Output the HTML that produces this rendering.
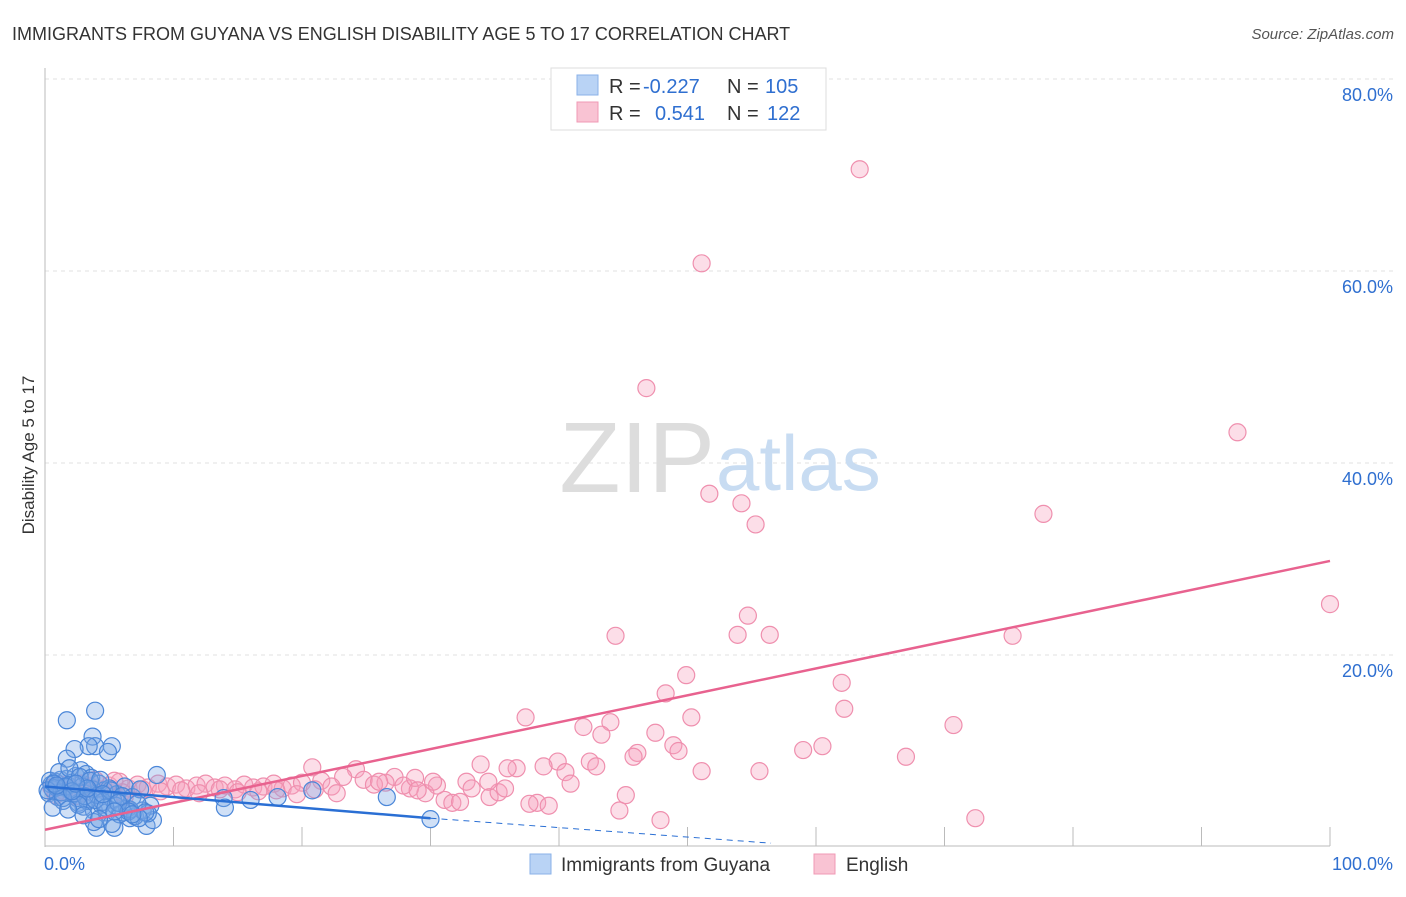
<!DOCTYPE html>
<html><head><meta charset="utf-8"><style>
body{margin:0;background:#fff;font-family:"Liberation Sans",sans-serif;}
svg text{font-family:"Liberation Sans",sans-serif;}
</style></head><body>
<svg id="chart" width="1406" height="892">
<text x="12" y="40" font-size="18" fill="#333">IMMIGRANTS FROM GUYANA VS ENGLISH DISABILITY AGE 5 TO 17 CORRELATION CHART</text>
<text x="1394" y="39" font-size="15" fill="#555" font-style="italic" text-anchor="end">Source: ZipAtlas.com</text>
<text x="34" y="455" font-size="17" fill="#333" text-anchor="middle" transform="rotate(-90 34 455)">Disability Age 5 to 17</text>
<g id="grid"></g>
<text x="715" y="492" font-size="100" fill="#ddd" text-anchor="end" font-family="Liberation Serif">ZIP</text>
<text x="716" y="490" font-size="78" fill="#c8dcf2">atlas</text>
<g id="pts"></g>
<g id="lines"></g>
<g>
<rect x="551" y="68" width="275" height="62" fill="#fff" stroke="#ddd"/>
<rect x="577" y="75" width="21" height="20" fill="#b9d3f5" stroke="#8ab2e8"/>
<rect x="577" y="102" width="21" height="20" fill="#f9c3d3" stroke="#f09ab5"/>
<text x="609" y="93" font-size="20" fill="#333">R =</text>
<text x="643" y="93" font-size="20" fill="#2f6fd0">-0.227</text>
<text x="727" y="93" font-size="20" fill="#333">N =</text>
<text x="765" y="93" font-size="20" fill="#2f6fd0">105</text>
<text x="609" y="120" font-size="20" fill="#333">R =</text>
<text x="655" y="120" font-size="20" fill="#2f6fd0">0.541</text>
<text x="727" y="120" font-size="20" fill="#333">N =</text>
<text x="767" y="120" font-size="20" fill="#2f6fd0">122</text>
</g>
<g>
<rect x="530" y="854" width="21" height="20" fill="#b9d3f5" stroke="#8ab2e8"/>
<text x="561" y="871" font-size="19" fill="#333">Immigrants from Guyana</text>
<rect x="814" y="854" width="21" height="20" fill="#f9c3d3" stroke="#f09ab5"/>
<text x="846" y="871" font-size="19" fill="#333">English</text>
</g>
<text x="44" y="870" font-size="18" fill="#2f6fd0">0.0%</text>
<text x="1393" y="870" font-size="18" fill="#2f6fd0" text-anchor="end">100.0%</text>
</svg>
<script>
const yTicks=[20,40,60,80];
const yTickLabels=["20.0%","40.0%","60.0%","80.0%"];
const xTicks=[0,10,20,30,40,50,60,70,80,90,100];
const blueTrend=[[0,6.3],[30,3.0]];
const blueDash=[[30,3.0],[56.5,0.4]];
const pinkTrend=[[0,1.8],[100,29.8]];
const blueX=[1.7,3.9,3.7,3.9,3.4,5.2,4.9,2.3,1.7,8.7,13.9,16,18.1,20.8,26.6,30,14,4,5.4,7.9,8.4,6.6,6.1,8.2,0.5,0.8,1.2,1.5,2,2.4,2.8,3.2,3.6,4.2,4.6,5,5.6,6.2,6.8,7.4,0.3,0.6,1,1.4,1.8,2.2,2.6,3,3.4,3.8,4.4,4.8,5.3,5.8,6.4,7,7.6,8,0.4,0.9,1.3,1.7,2.1,2.5,2.9,3.3,3.7,4.1,4.5,5.1,5.5,6,6.6,7.2,7.8,1.1,1.9,2.7,3.5,4.3,0.2,0.7,1.6,2.3,3.1,3.9,4.7,5.7,6.5,7.3,1.4,2.6,3.8,5.2,6.8,0.6,1.8,3,4.2,5.4,0.9,2.1,3.3,4.5,2.4];
const blueY=[13.2,14.2,11.5,10.5,10.5,10.5,9.9,10.2,9.2,7.5,5.1,4.9,5.2,5.9,5.2,2.9,4.1,2,2,2.2,2.8,3,3.6,4.3,6.5,6.8,7,6.2,5.8,7.4,8,7.6,7.2,6.6,5.9,6.1,5.5,6.3,5.2,6,5.6,6,5.2,4.8,6.4,5.5,4.6,4.2,5,3.8,4.4,3.6,4.9,3.4,4,3.2,3.8,3.5,6.9,6.2,5.7,7.1,6.7,5.1,6.3,4.8,6,5.4,4.7,5.9,4.3,5.3,3.9,4.5,3.6,7.8,8.2,7.3,6.9,7,5.9,6.6,6.3,5.6,5.3,4.9,4.1,4.6,3.7,3,5.1,4.4,2.6,2.4,3.4,4.1,3.9,3.3,2.9,3.7,6.4,5.8,6.1,5.5,6.6];
const pinkX=[63.4,51.1,46.8,92.8,51.7,54.2,55.3,77.7,100,54.7,44.4,53.9,56.4,75.3,49.9,48.3,62,62.2,37.4,50.3,44,41.9,70.7,47.5,43.3,60.5,59,48.9,49.3,46.1,45.8,67,39.9,42.4,42.9,38.8,36.7,36,33.9,40.5,51.1,55.6,40.9,45.2,44.7,47.9,72.4,38.3,39.2,37.7,34.6,35.3,35.8,34.5,32.8,33.2,31.1,31.7,32.3,30.5,29.6,30.2,28.4,27.2,26.5,24.2,20.8,23.2,0.5,1.2,2,2.8,3.5,4.2,5,5.8,6.5,7.2,8,8.8,9.5,10.2,11,11.8,12.5,13.2,14,14.8,15.5,16.2,17,17.8,18.5,19.2,20,21.5,22.3,24.8,25.6,27.9,28.8,1.5,3,4.6,6,7.6,9,10.6,12,13.6,15,16.6,18,19.6,21,22.7,0.8,2.4,3.9,5.4,6.2,26,29];
const pinkY=[70.6,60.8,47.8,43.2,36.8,35.8,33.6,34.7,25.3,24.1,22,22.1,22.1,22,17.9,16,17.1,14.4,13.5,13.5,13,12.5,12.7,11.9,11.7,10.5,10.1,10.6,10,9.8,9.4,9.4,8.9,8.9,8.4,8.4,8.2,8.2,8.6,7.8,7.9,7.9,6.6,5.4,3.8,2.8,3,4.6,4.3,4.5,5.2,5.7,6.1,6.8,6.8,6.1,4.9,4.6,4.7,6.4,5.6,6.8,6.1,7.3,6.7,8.1,8.3,7.3,6.2,6.5,6,6.6,6.3,6,6.4,6.8,6.1,6.5,6.2,6.6,6.3,6.5,6.1,6.4,6.6,6.2,6.4,6,6.5,6.2,6.3,6.6,6.1,6.4,6.7,6.9,6.3,7,6.5,6.4,7.2,5.8,5.6,5.9,5.7,6,5.8,5.9,5.6,6,5.7,5.8,5.9,5.5,6,5.6,5.4,5.3,7,6.9,5.2,6.8,5.9];
const X0=45,X1=1330,Y0=847,PY=9.6;
const sx=v=>X0+(X1-X0)*v/100;
const sy=v=>Y0-v*PY;
const NS='http://www.w3.org/2000/svg';
function mk(tag,attrs,parent){const e=document.createElementNS(NS,tag);for(const k in attrs)e.setAttribute(k,attrs[k]);parent.appendChild(e);return e;}
const grid=document.getElementById('grid');
yTicks.forEach((t,i)=>{
 const l=mk('line',{x1:X0,x2:1394,y1:sy(t),y2:sy(t),stroke:'#e2e2e2','stroke-dasharray':'4,4'},grid);
 
 
 const tx=mk('text',{x:1393,y:sy(t)+22,'font-size':18,fill:'#2f6fd0','text-anchor':'end'},grid);
 tx.textContent=yTickLabels[i];
 
 
});
const ax=mk('line',{x1:X0,x2:X0,y1:68,y2:847,stroke:'#bbb'},grid);


const bx=mk('line',{x1:X0,x2:X1,y1:846,y2:846,stroke:'#bbb'},grid);


xTicks.forEach(t=>{
 const l=mk('line',{x1:sx(t),x2:sx(t),y1:827,y2:846,stroke:'#bbb'},grid);
 
 
});
const pts=document.getElementById('pts');
pinkX.forEach((x,i)=>{
 if(pinkY[i]===undefined)return;
 const c=mk('circle',{cx:sx(x),cy:sy(pinkY[i]),r:8.5,fill:'rgba(246,160,188,0.35)',stroke:'#ef8fae','stroke-width':1.2},pts);
 
 
});
blueX.forEach((x,i)=>{
 if(blueY[i]===undefined)return;
 const c=mk('circle',{cx:sx(x),cy:sy(blueY[i]),r:8.5,fill:'rgba(120,165,230,0.35)',stroke:'#4a86d8','stroke-width':1.2},pts);
 
 
});
const lines=document.getElementById('lines');
const pl=mk('line',{x1:sx(pinkTrend[0][0]),y1:sy(pinkTrend[0][1]),x2:sx(pinkTrend[1][0]),y2:sy(pinkTrend[1][1]),stroke:'#e8628f','stroke-width':2.5},lines);


const bl=mk('line',{x1:sx(blueTrend[0][0]),y1:sy(blueTrend[0][1]),x2:sx(blueTrend[1][0]),y2:sy(blueTrend[1][1]),stroke:'#2a6fd4','stroke-width':2.5},lines);


const bd=mk('line',{x1:sx(blueDash[0][0]),y1:sy(blueDash[0][1]),x2:sx(blueDash[1][0]),y2:sy(blueDash[1][1]),stroke:'#2a6fd4','stroke-width':1,'stroke-dasharray':'6,5'},lines);


</script>
</body></html>
